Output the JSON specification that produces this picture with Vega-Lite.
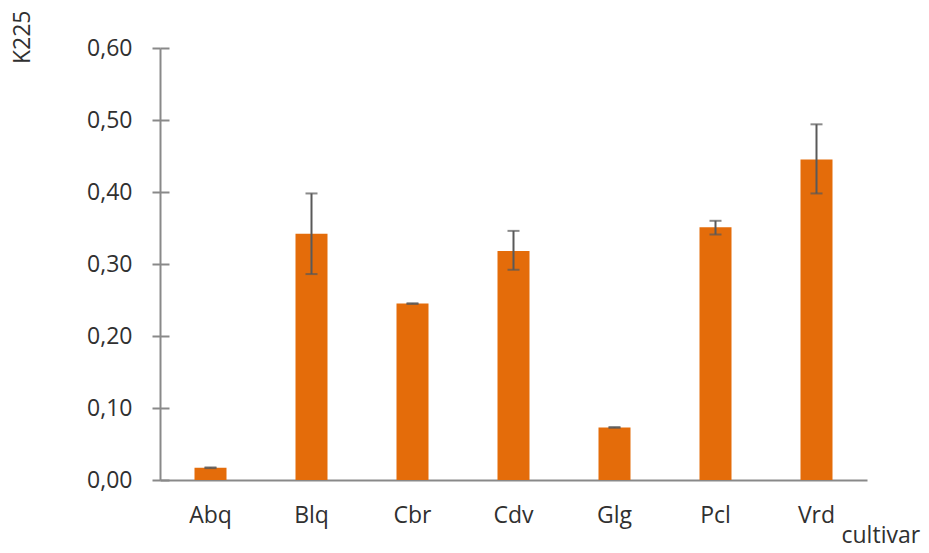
{
  "$schema": "https://vega.github.io/schema/vega-lite/v6.json",
  "width": 707,
  "height": 432,
  "autosize": "none",
  "padding": {"left": 160, "top": 48, "right": 62, "bottom": 73},
  "background": "white",
  "config": {
    "view": {"stroke": null},
    "font": "Open Sans",
    "axis": {"labelFont": "Open Sans", "titleFont": "Open Sans"}
  },
  "data": {
    "values": [
      {"cultivar": "Abq", "K225": 0.017, "lo": 0.0165, "hi": 0.0175},
      {"cultivar": "Blq", "K225": 0.342, "lo": 0.286, "hi": 0.398},
      {"cultivar": "Cbr", "K225": 0.245, "lo": 0.2445, "hi": 0.2455},
      {"cultivar": "Cdv", "K225": 0.318, "lo": 0.292, "hi": 0.346},
      {"cultivar": "Glg", "K225": 0.073, "lo": 0.0725, "hi": 0.0735},
      {"cultivar": "Pcl", "K225": 0.351, "lo": 0.341, "hi": 0.36},
      {"cultivar": "Vrd", "K225": 0.445, "lo": 0.398, "hi": 0.494}
    ]
  },
  "encoding": {
    "x": {
      "field": "cultivar",
      "type": "nominal",
      "sort": null,
      "scale": {"paddingInner": 0, "paddingOuter": 0},
      "axis": {
        "title": "cultivar",
        "labelAngle": 0,
        "ticks": false,
        "labelPadding": 24,
        "labelFontSize": 23,
        "labelFontWeight": 400,
        "labelColor": "#303030",
        "domainColor": "#898989",
        "domainWidth": 2,
        "titleFontSize": 23,
        "titleFontWeight": 400,
        "titleColor": "#303030",
        "titleX": 681,
        "titleY": 62,
        "titleAlign": "left",
        "titleBaseline": "alphabetic"
      }
    }
  },
  "layer": [
    {
      "mark": {"type": "bar", "color": "#E46C0A", "width": 32},
      "encoding": {
        "y": {
          "field": "K225",
          "type": "quantitative",
          "title": "K225",
          "scale": {"domain": [0, 0.6]},
          "axis": {
            "values": [0, 0.1, 0.2, 0.3, 0.4, 0.5, 0.6],
            "labelExpr": "replace(format(datum.value, '.2f'), '.', ',')",
            "tickSize": 8,
            "tickWidth": 2,
            "tickColor": "#898989",
            "domainColor": "#898989",
            "domainWidth": 2,
            "grid": true,
            "gridColor": "#898989",
            "gridWidth": 2,
            "gridDash": [9, 2000],
            "labelPadding": 20,
            "labelFontSize": 23,
            "labelFontWeight": 400,
            "labelColor": "#303030",
            "titleFontSize": 23,
            "titleFontWeight": 400,
            "titleColor": "#303030",
            "titleAngle": -90,
            "titleX": -138,
            "titleY": -38,
            "titleAlign": "right",
            "titleBaseline": "middle"
          }
        }
      }
    },
    {
      "mark": {"type": "rule", "color": "#595959", "strokeWidth": 2},
      "encoding": {
        "y": {"field": "lo", "type": "quantitative", "title": "K225"},
        "y2": {"field": "hi"}
      }
    },
    {
      "mark": {"type": "tick", "color": "#595959", "thickness": 2, "size": 12},
      "encoding": {
        "y": {"field": "lo", "type": "quantitative", "title": "K225"}
      }
    },
    {
      "mark": {"type": "tick", "color": "#595959", "thickness": 2, "size": 12},
      "encoding": {
        "y": {"field": "hi", "type": "quantitative", "title": "K225"}
      }
    }
  ]
}
